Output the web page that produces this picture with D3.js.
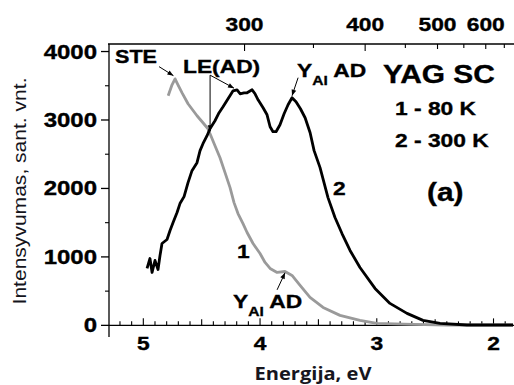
<!DOCTYPE html>
<html>
<head>
<meta charset="utf-8">
<script src="https://cdn.jsdelivr.net/npm/d3@7"></script>
<style>
  body { margin: 0; background: #fff; }
  svg text { font-family: "Liberation Sans", Arial, sans-serif; font-weight: bold; fill: #000;
             stroke: #000; stroke-width: 0.35px; }
  .xtitle { font-family: "Open Sans", sans-serif; font-weight: 700; fill: #16161e; stroke: none; }
  .ytitle { font-family: "Liberation Sans", Arial, sans-serif; font-weight: normal; fill: #14141c; stroke: none; }
</style>
</head>
<body>
<svg width="514" height="385"></svg>
<script>
// spectrum 1 - 80 K (gray)
const energy80 = [4.787, 4.754, 4.728, 4.703, 4.668, 4.617, 4.540, 4.489, 4.446, 4.386, 4.343, 4.300,
  4.257, 4.223, 4.189, 4.146, 4.111, 4.060, 4.000, 3.957, 3.914, 3.854, 3.786, 3.726, 3.657, 3.572,
  3.460, 3.315, 3.144, 2.999, 2.690, 2.398, 1.833];
const intens80 = [3353, 3514, 3601, 3514, 3397, 3237, 3062, 2960, 2872, 2624, 2449, 2231,
  2012, 1793, 1633, 1487, 1356, 1196, 1050, 919, 831, 773, 787, 729, 583, 408,
  262, 146, 73, 29, 15, 5, 5];

// spectrum 2 - 300 K (black)
const energy300 = [4.968, 4.943, 4.925, 4.900, 4.874, 4.857, 4.840, 4.797, 4.771, 4.745, 4.711, 4.686,
  4.651, 4.617, 4.583, 4.540, 4.514, 4.489, 4.454, 4.429, 4.386, 4.351, 4.317, 4.274, 4.231, 4.197,
  4.171, 4.137, 4.111, 4.068, 4.043, 4.017, 3.974, 3.940, 3.914, 3.889, 3.863, 3.829, 3.794, 3.760,
  3.726, 3.692, 3.654, 3.614, 3.571, 3.537, 3.486, 3.418, 3.358, 3.298, 3.229, 3.144, 3.015, 2.887,
  2.741, 2.604, 2.458, 2.227, 1.833];
const intens300 = [831, 977, 773, 948, 816, 1021, 1196, 1254, 1385, 1502, 1648, 1779,
  1881, 2085, 2260, 2377, 2552, 2654, 2770, 2872, 2989, 3106, 3193, 3310, 3426, 3441,
  3383, 3397, 3397, 3441, 3383, 3295, 3178, 3076, 2901, 2829, 2829, 2931, 3091, 3222,
  3324, 3266, 3164, 3033, 2814, 2552, 2304, 1866, 1575, 1341, 1094, 846, 540, 321,
  175, 73, 29, 5, 5];

const yTicks = [0, 1000, 2000, 3000, 4000];
const yMinor = [500, 1500, 2500, 3500];
const eTicks = [5, 4, 3, 2];
const nmLabels = [300, 400, 500, 600];
const nmMinor = [350, 450, 550, 650];

const sx = 1.2; // horizontal stretch of the original lettering

const svg = d3.select("svg");
const pLeft = 109, pRight = 513, pTop = 44, pBottom = 337;

const x = d3.scaleLinear().domain([5.294, 1.833]).range([pLeft, pRight]);
const y = d3.scaleLinear().domain([-170, 4110]).range([pBottom, pTop]);
const nm = l => x(1239.84 / l);

function txt(px, py, s, size, anchor, stretch) {
  return svg.append("text")
    .attr("transform", `translate(${px},${py}) scale(${stretch || sx},1)`)
    .attr("text-anchor", anchor || "start")
    .style("font-size", size + "px")
    .text(s);
}

// left axis
svg.append("line").attr("x1", pLeft).attr("x2", pLeft).attr("y1", pTop).attr("y2", pBottom)
  .attr("stroke", "#000").attr("stroke-width", 1.3);
yTicks.forEach(v => {
  svg.append("line").attr("x1", pLeft - 8).attr("x2", pLeft).attr("y1", y(v)).attr("y2", y(v))
    .attr("stroke", "#000").attr("stroke-width", 1.3);
  txt(97, y(v) + 7, v, 20, "end");
});
yMinor.forEach(v => {
  svg.append("line").attr("x1", pLeft - 4).attr("x2", pLeft).attr("y1", y(v)).attr("y2", y(v))
    .attr("stroke", "#000").attr("stroke-width", 1.1);
});

// bottom axis drawn at zero level, ticks pointing up
svg.append("line").attr("x1", pLeft).attr("x2", pRight + 1).attr("y1", y(0)).attr("y2", y(0))
  .attr("stroke", "#000").attr("stroke-width", 1.3);
d3.range(19, 53).map(i => i / 10).forEach(e => {
  const k = Math.round(e * 10);
  const len = k % 10 === 0 ? 7 : (k % 5 === 0 ? 6 : 4);
  svg.append("line").attr("x1", x(e)).attr("x2", x(e)).attr("y1", y(0)).attr("y2", y(0) - len)
    .attr("stroke", "#000").attr("stroke-width", 1.1);
});
eTicks.forEach(e => txt(x(e), 350, e, 19, "middle"));

// top axis in wavelength (nm)
svg.append("line").attr("x1", pLeft - 1).attr("x2", pRight + 1).attr("y1", pTop).attr("y2", pTop)
  .attr("stroke", "#000").attr("stroke-width", 1.3);
nmLabels.forEach(l => {
  const len = l <= 400 ? 7 : 5;
  svg.append("line").attr("x1", nm(l)).attr("x2", nm(l)).attr("y1", pTop).attr("y2", pTop + len)
    .attr("stroke", "#000").attr("stroke-width", 1.1);
  txt(nm(l), 31, l, 19, "middle");
});
nmMinor.forEach(l => {
  svg.append("line").attr("x1", nm(l)).attr("x2", nm(l)).attr("y1", pTop).attr("y2", pTop + 4)
    .attr("stroke", "#000").attr("stroke-width", 1.1);
});

// axis titles
svg.append("text").attr("class", "xtitle")
  .attr("transform", "translate(313,380) scale(1.18,1)").attr("text-anchor", "middle")
  .style("font-size", "17px").text("Energija, eV");
svg.append("text").attr("class", "ytitle")
  .attr("transform", "translate(26,191) rotate(-90) scale(1.17,1)").attr("text-anchor", "middle")
  .style("font-size", "18px").text("Intensyvumas, sant. vnt.");

// curves
const line = d3.line().x(d => x(d[0])).y(d => y(d[1]));
svg.append("path").datum(d3.zip(energy80, intens80)).attr("d", line)
  .attr("fill", "none").attr("stroke", "#9a9a9a").attr("stroke-width", 2.8)
  .attr("stroke-linejoin", "round");
svg.append("path").datum(d3.zip(energy300, intens300)).attr("d", line)
  .attr("fill", "none").attr("stroke", "#000").attr("stroke-width", 2.8)
  .attr("stroke-linejoin", "round");

// arrows
svg.append("defs").append("marker").attr("id", "ah")
  .attr("viewBox", "0 0 10 10").attr("refX", 10).attr("refY", 5)
  .attr("markerWidth", 7).attr("markerHeight", 6).attr("orient", "auto")
  .append("path").attr("d", "M0,1 L10,5 L0,9 Z").attr("fill", "#000");

function arrow(e1, i1, e2, i2) {
  svg.append("line").attr("x1", x(e1)).attr("y1", y(i1)).attr("x2", x(e2)).attr("y2", y(i2))
    .attr("stroke", "#000").attr("stroke-width", 1).attr("marker-end", "url(#ah)");
}
arrow(4.865, 3779, 4.742, 3648);
arrow(4.428, 3655, 4.223, 3465);
arrow(4.428, 3655, 4.428, 2836);
arrow(3.674, 3618, 3.726, 3355);
arrow(3.854, 519, 3.786, 768);

// annotations
txt(115, 63, "STE", 18);
txt(183, 73, "LE(AD)", 19);

function yal(px, py) {
  const t = svg.append("text")
    .attr("transform", `translate(${px},${py}) scale(${sx},1)`)
    .style("font-size", "19px");
  t.append("tspan").text("Y");
  t.append("tspan").attr("dy", 8).style("font-size", "13px").text("Al");
  t.append("tspan").attr("dy", -8).text(" AD");
}
yal(297, 77);
yal(233, 308);

txt(237, 258, "1", 19);
txt(333, 195, "2", 19);

txt(383, 83, "YAG SC", 26, "start", 1.15);
txt(395, 115, "1 - 80 K", 19);
txt(395, 147, "2 - 300 K", 19);
txt(427, 201, "(a)", 26, "start", 1.15);
</script>
</body>
</html>
